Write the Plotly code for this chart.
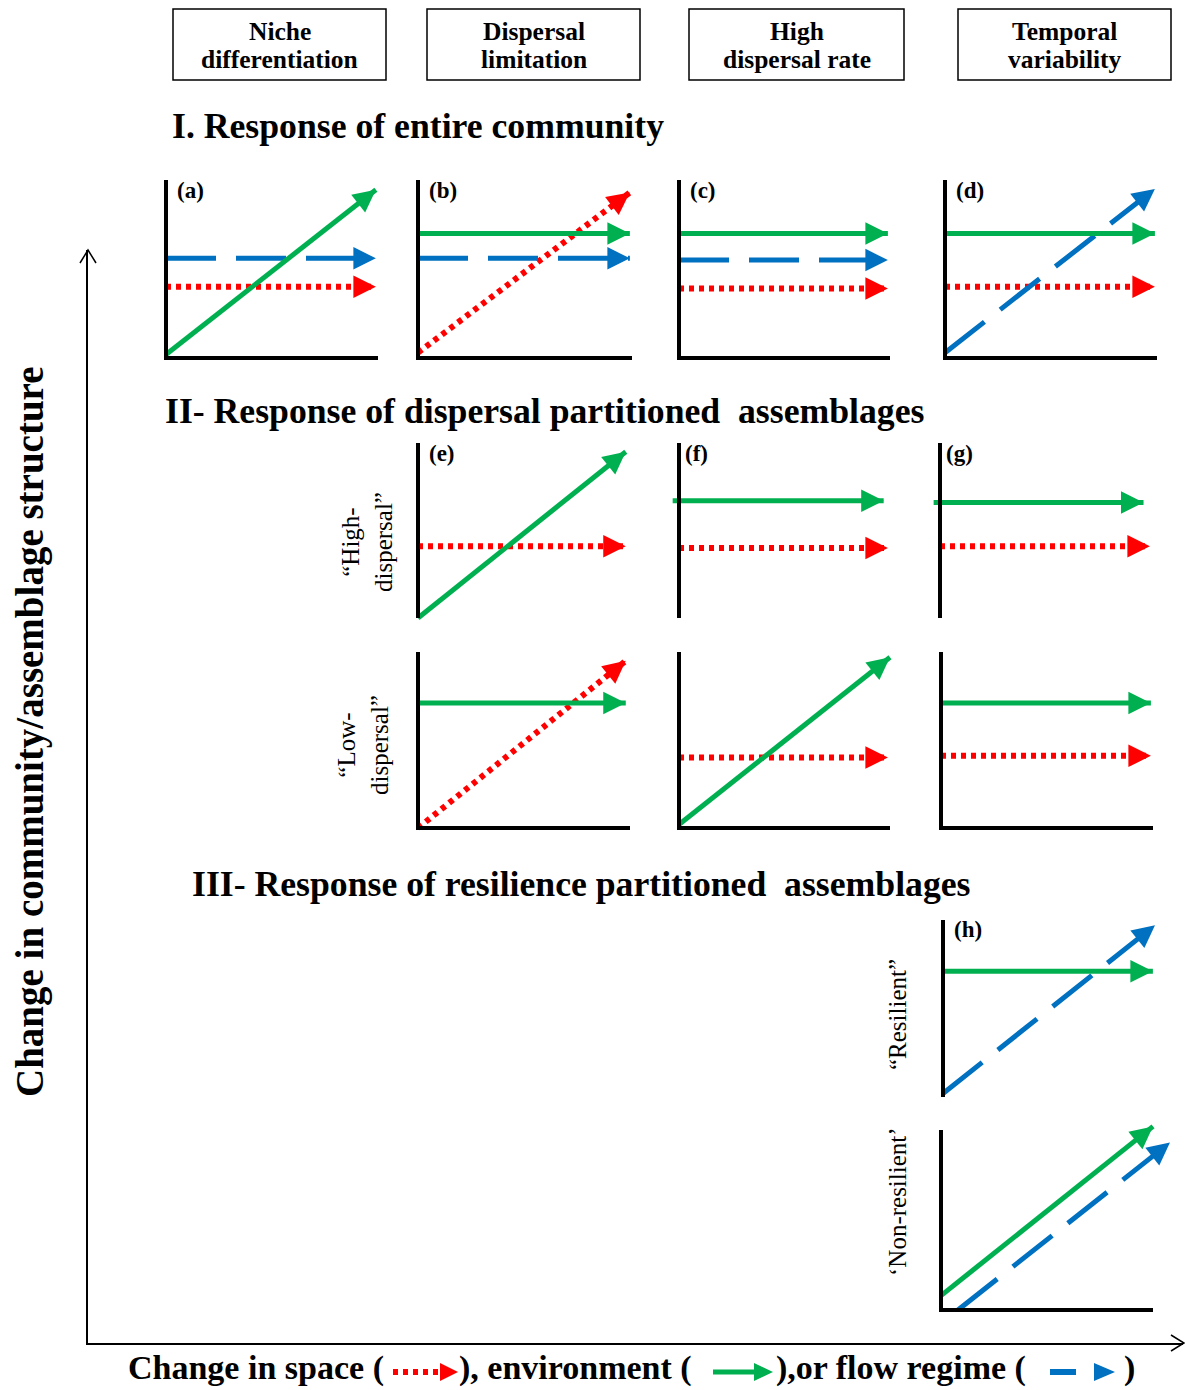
import plotly.graph_objects as go

W, H = 1185, 1390
FONT = "Liberation Serif"

# ---------------- data (conceptual responses, normalised 0-1 axes) ----------------
panel_ids = ["a", "b", "c", "d", "e_hi", "f_hi", "g_hi", "e_lo", "f_lo", "g_lo", "h_res", "h_non"]
panel_labels = ["(a)", "(b)", "(c)", "(d)", "(e)", "(f)", "(g)", "", "", "", "(h)", ""]

# red dotted: change in space
space_x0 = [0.0, 0.0, 0.0, 0.0, 0.0, 0.0, 0.0, 0.0, 0.0, 0.0, None, None]
space_y0 = [0.40, 0.03, 0.39, 0.40, 0.41, 0.40, 0.41, 0.00, 0.40, 0.41, None, None]
space_x1 = [0.99, 0.99, 0.99, 0.99, 0.98, 0.99, 0.99, 0.98, 0.99, 0.99, None, None]
space_y1 = [0.40, 0.93, 0.39, 0.40, 0.41, 0.40, 0.41, 0.95, 0.40, 0.41, None, None]

# green solid: change in environment
env_x0 = [0.0, 0.0, 0.0, 0.0, 0.0, -0.03, -0.03, 0.0, 0.0, 0.0, 0.0, 0.0]
env_y0 = [0.02, 0.70, 0.70, 0.70, 0.00, 0.67, 0.66, 0.71, 0.02, 0.71, 0.71, 0.08]
env_x1 = [0.99, 0.99, 0.99, 0.99, 0.98, 0.97, 0.96, 0.98, 1.00, 0.99, 0.99, 1.00]
env_y1 = [0.945, 0.70, 0.70, 0.70, 0.95, 0.67, 0.66, 0.71, 0.97, 0.71, 0.71, 1.02]

# blue dashed: change in flow regime
flow_x0 = [0.0, 0.0, 0.0, 0.0, None, None, None, None, None, None, 0.0, 0.08]
flow_y0 = [0.56, 0.56, 0.55, 0.03, None, None, None, None, None, None, 0.02, 0.00]
flow_x1 = [0.99, 0.99, 0.99, 0.99, None, None, None, None, None, None, 1.00, 1.08]
flow_y1 = [0.56, 0.56, 0.55, 0.95, None, None, None, None, None, None, 0.97, 0.93]

header_lines = [("Niche", "differentiation"), ("Dispersal", "limitation"),
                ("High", "dispersal rate"), ("Temporal", "variability")]
section_titles = ["I. Response of entire community",
                  "II- Response of dispersal partitioned  assemblages",
                  "III- Response of resilience partitioned  assemblages"]
row_labels = ["“High-<br>dispersal”", "“Low-<br>dispersal”", "“Resilient”", "‘Non-resilient’"]
y_title = "Change in community/assemblage structure"
x_title_parts = ["Change in space (", "), environment (", "),or flow regime (", ")"]

# ---------------- layout geometry (pixels) ----------------
# left, right, top, bottom of the unit square, has bottom axis line
PANEL_BOX = {
    "a": (166, 378, 180, 358, True),
    "b": (418, 632, 180, 358, True),
    "c": (679, 890, 180, 358, True),
    "d": (945, 1157, 180, 358, True),
    "e_hi": (418, 630, 443, 618, False),
    "f_hi": (679, 890, 443, 618, False),
    "g_hi": (940, 1152, 443, 618, False),
    "e_lo": (418, 630, 652, 828, True),
    "f_lo": (679, 890, 652, 828, True),
    "g_lo": (941, 1153, 652, 828, True),
    "h_res": (943, 1155, 920, 1097, False),
    "h_non": (941, 1153, 1130, 1310, True),
}
XMIN, XMAX = -0.05, 1.12
YMIN, YMAX = -0.05, 1.08

RED, GREEN, BLUE = "#FF0000", "#00B050", "#0070C0"


def px(x):
    return x / W


def py(y):
    return 1 - y / H


fig = go.Figure()
layout_axes = {}
annotations = []
shapes = []


def add_arrow(x0, y0, x1, y1, color, dash, width, xa, ya):
    # shaft
    fig.add_trace(go.Scatter(
        x=[x0, x1], y=[y0, y1], xaxis=xa, yaxis=ya, mode="lines",
        line=dict(color=color, width=width, dash=dash, backoff=8),
        cliponaxis=False, showlegend=False, hoverinfo="skip"))
    # head, oriented along the segment
    eps = 0.04
    annotations.append(dict(
        x=x1, y=y1, xref=xa, yref=ya,
        ax=x1 - (x1 - x0) * eps, ay=y1 - (y1 - y0) * eps, axref=xa, ayref=ya,
        text="", showarrow=True, arrowhead=2, arrowsize=1.5, arrowwidth=3,
        arrowcolor=color, standoff=0, startstandoff=0))


for i, pid in enumerate(panel_ids):
    n = i + 1
    xa = "x" if n == 1 else f"x{n}"
    ya = "y" if n == 1 else f"y{n}"
    l, r, t, b, bottom = PANEL_BOX[pid]
    ux, uy = r - l, b - t
    layout_axes["xaxis" if n == 1 else f"xaxis{n}"] = dict(
        domain=[px(l + XMIN * ux), px(l + XMAX * ux)], range=[XMIN, XMAX], anchor=ya,
        visible=False, fixedrange=True)
    layout_axes["yaxis" if n == 1 else f"yaxis{n}"] = dict(
        domain=[py(b - YMIN * uy), py(b - YMAX * uy)], range=[YMIN, YMAX], anchor=xa,
        visible=False, fixedrange=True)

    # panel axes (drawn in data units of the panel)
    if bottom:
        shapes.append(dict(type="path", xref=xa, yref=ya, path="M 0,1 L 0,0 L 1,0",
                           line=dict(color="black", width=4), layer="above"))
    else:
        shapes.append(dict(type="line", xref=xa, yref=ya, x0=0, x1=0, y0=0, y1=1,
                           line=dict(color="black", width=4), layer="above"))

    if space_y0[i] is not None:
        add_arrow(space_x0[i], space_y0[i], space_x1[i], space_y1[i], RED, "5px,5px", 6, xa, ya)
    if flow_y0[i] is not None:
        add_arrow(flow_x0[i], flow_y0[i], flow_x1[i], flow_y1[i], BLUE, "50px,20px", 5, xa, ya)
    if env_y0[i] is not None:
        add_arrow(env_x0[i], env_y0[i], env_x1[i], env_y1[i], GREEN, "solid", 5, xa, ya)

    if panel_labels[i]:
        offs = 4 if pid in ("f_hi", "g_hi") else 9
        annotations.append(dict(
            text=f"<b>{panel_labels[i]}</b>", xref="paper", yref="paper",
            x=px(l + offs), y=py(t + 10), xanchor="left", yanchor="middle",
            showarrow=False, font=dict(family=FONT, size=23, color="black")))

# outer (overall) axes
layout_axes["xaxis13"] = dict(domain=[px(88), px(1183)], range=[0, 1], anchor="y13",
                              showline=True, linecolor="black", linewidth=1.5,
                              showgrid=False, zeroline=False, showticklabels=False, ticks="")
layout_axes["yaxis13"] = dict(domain=[py(1343), py(250)], range=[0, 1], anchor="x13",
                              showline=True, linecolor="black", linewidth=1.5,
                              showgrid=False, zeroline=False, showticklabels=False, ticks="")
fig.add_trace(go.Scatter(x=[], y=[], xaxis="x13", yaxis="y13", showlegend=False))

# chevron arrow heads of the overall axes
shapes.append(dict(type="path", xref="paper", yref="paper",
                   path=f"M {px(80)} {py(263)} L {px(88)} {py(250)} L {px(96)} {py(263)}",
                   line=dict(color="black", width=1.5)))
shapes.append(dict(type="path", xref="paper", yref="paper",
                   path=f"M {px(1171)} {py(1335)} L {px(1184)} {py(1343)} L {px(1171)} {py(1351)}",
                   line=dict(color="black", width=1.5)))

# header boxes
HEADER_BOX = [(173, 386), (427, 640), (689, 904), (958, 1171)]
for (l, r), (l1, l2) in zip(HEADER_BOX, header_lines):
    shapes.append(dict(type="rect", xref="paper", yref="paper",
                       x0=px(l), x1=px(r), y0=py(80), y1=py(9),
                       line=dict(color="black", width=1.5)))
    for txt, yy in ((l1, 32), (l2, 60)):
        annotations.append(dict(text=f"<b>{txt}</b>", xref="paper", yref="paper",
                                x=px((l + r) / 2), y=py(yy), xanchor="center", yanchor="middle",
                                showarrow=False, font=dict(family=FONT, size=25.5, color="black")))

# section titles
SEC_POS = [(170, 126), (163, 411), (190, 884)]
for (x, y), txt in zip(SEC_POS, section_titles):
    annotations.append(dict(text=f"<b>{txt}</b>", xref="paper", yref="paper",
                            x=px(x), y=py(y), xanchor="left", yanchor="middle",
                            showarrow=False, font=dict(family=FONT, size=35.7, color="black")))

# row labels (rotated)
ROW_POS = [(367, 542), (363, 745), (897, 1015), (897, 1202)]
for (x, y), txt in zip(ROW_POS, row_labels):
    annotations.append(dict(text=txt, xref="paper", yref="paper", textangle=-90,
                            x=px(x), y=py(y), xanchor="center", yanchor="middle",
                            showarrow=False, font=dict(family=FONT, size=25, color="black")))

# overall y title
annotations.append(dict(text=f"<b>{y_title}</b>", xref="paper", yref="paper", textangle=-90,
                        x=px(30), y=py(732), xanchor="center", yanchor="middle",
                        showarrow=False, font=dict(family=FONT, size=39, color="black")))

# overall x title with inline arrow glyphs
XT_Y = 1368
xt_pos = [(386, "right"), (457, "left"), (774, "left"), (1122, "left")]
for txt, (x, anc) in zip(x_title_parts, xt_pos):
    annotations.append(dict(text=f"<b>{txt}</b>", xref="paper", yref="paper",
                            x=px(x), y=py(XT_Y), xanchor=anc, yanchor="middle",
                            showarrow=False, font=dict(family=FONT, size=34, color="black")))
GY = 1372
shapes.append(dict(type="line", xref="paper", yref="paper", x0=px(393), x1=px(440),
                   y0=py(GY), y1=py(GY), line=dict(color=RED, width=6, dash="5px,5px")))
shapes.append(dict(type="path", xref="paper", yref="paper", fillcolor=RED,
                   path=f"M {px(440)} {py(GY-9)} L {px(458)} {py(GY)} L {px(440)} {py(GY+9)} Z",
                   line=dict(color=RED, width=0)))
shapes.append(dict(type="line", xref="paper", yref="paper", x0=px(713), x1=px(756),
                   y0=py(GY), y1=py(GY), line=dict(color=GREEN, width=5)))
shapes.append(dict(type="path", xref="paper", yref="paper", fillcolor=GREEN,
                   path=f"M {px(754)} {py(GY-9)} L {px(773)} {py(GY)} L {px(754)} {py(GY+9)} Z",
                   line=dict(color=GREEN, width=0)))
shapes.append(dict(type="line", xref="paper", yref="paper", x0=px(1050), x1=px(1076),
                   y0=py(GY), y1=py(GY), line=dict(color=BLUE, width=6)))
shapes.append(dict(type="path", xref="paper", yref="paper", fillcolor=BLUE,
                   path=f"M {px(1094)} {py(GY-9)} L {px(1115)} {py(GY)} L {px(1094)} {py(GY+9)} Z",
                   line=dict(color=BLUE, width=0)))

fig.update_layout(
    width=W, height=H, margin=dict(l=0, r=0, t=0, b=0),
    paper_bgcolor="white", plot_bgcolor="rgba(0,0,0,0)",
    showlegend=False, annotations=annotations, shapes=shapes, **layout_axes)

fig.write_html("out.html", config={"displayModeBar": False},
               post_script="document.body.style.margin='0px';")
